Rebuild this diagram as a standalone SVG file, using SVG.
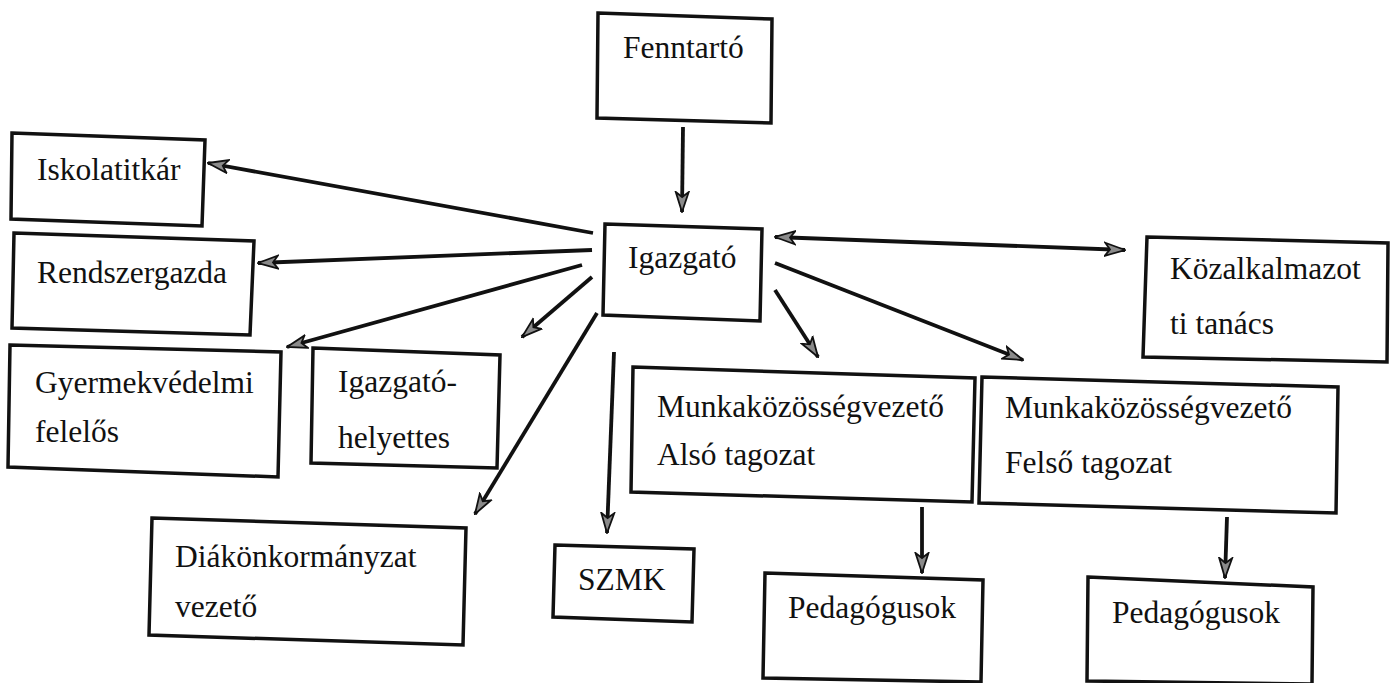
<svg xmlns="http://www.w3.org/2000/svg" width="1391" height="683" viewBox="0 0 1391 683">
<style>
.box{fill:#fff;stroke:#111;stroke-width:3.5;stroke-linejoin:miter}
.t{font-size:31.5px;fill:#111}
.c{fill:none;stroke:#111;stroke-width:3.8;marker-end:url(#ah)}
.bi{marker-start:url(#ah)}
</style>
<defs>
<marker id="ah" viewBox="0 0 22 16" markerWidth="22" markerHeight="16" refX="21" refY="8" orient="auto-start-reverse" markerUnits="userSpaceOnUse">
<path d="M1,1.5 L21,8 L1,14.5 L6,8 z" fill="#8a8a8a" stroke="#111" stroke-width="1.8" stroke-linejoin="miter"/>
</marker>
</defs>
<rect width="1391" height="683" fill="#fff"/>
<g id="connectors">
<line class="c" x1="683" y1="127" x2="682" y2="212"/>
<line class="c" x1="593" y1="233" x2="208" y2="163"/>
<line class="c" x1="592" y1="250" x2="258" y2="263"/>
<line class="c" x1="582" y1="265" x2="287" y2="347"/>
<line class="c" x1="592" y1="277" x2="522" y2="337"/>
<line class="c" x1="597" y1="313" x2="475" y2="514"/>
<line class="c" x1="614" y1="352" x2="607" y2="533"/>
<line class="c bi" x1="775" y1="237" x2="1125" y2="250"/>
<line class="c" x1="775" y1="290" x2="818" y2="357"/>
<line class="c" x1="775" y1="263" x2="1023" y2="360"/>
<line class="c" x1="922" y1="507" x2="922" y2="573"/>
<line class="c" x1="1227" y1="517" x2="1225" y2="578"/>
</g>
<g font-family="'Liberation Serif', 'Times New Roman', 'DejaVu Serif', serif">
<g id="fenntarto">
<polygon class="box" points="598,13 772,19 771,123 597,118"/>
<text class="t" x="623" y="58">Fenntartó</text>
</g>
<g id="iskolatitkar">
<polygon class="box" points="12,133 205,140 202,226 11,219"/>
<text class="t" x="37" y="180">Iskolatitkár</text>
</g>
<g id="rendszergazda">
<polygon class="box" points="14,233 254,241 250,335 12,328"/>
<text class="t" x="37" y="283">Rendszergazda</text>
</g>
<g id="igazgato">
<polygon class="box" points="605,224 762,229 760,321 603,315"/>
<text class="t" x="628" y="268">Igazgató</text>
</g>
<g id="kozalkalmazotti">
<polygon class="box" points="1147,237 1388,243 1387,362 1143,357"/>
<text class="t" x="1170" y="279">Közalkalmazot</text>
<text class="t" x="1170" y="334">ti tanács</text>
</g>
<g id="gyermekvedelmi">
<polygon class="box" points="10,345 281,352 278,477 8,467"/>
<text class="t" x="35" y="393">Gyermekvédelmi</text>
<text class="t" x="35" y="442">felelős</text>
</g>
<g id="igazgatohelyettes">
<polygon class="box" points="313,348 500,355 497,468 311,463"/>
<text class="t" x="338" y="392">Igazgató-</text>
<text class="t" x="338" y="448">helyettes</text>
</g>
<g id="diakonkormanyzat">
<polygon class="box" points="152,518 466,528 463,645 149,635"/>
<text class="t" x="175" y="567">Diákönkormányzat</text>
<text class="t" x="175" y="617">vezető</text>
</g>
<g id="szmk">
<polygon class="box" points="555,545 694,549 692,622 553,617"/>
<text class="t" x="578" y="590">SZMK</text>
</g>
<g id="mkv-also">
<polygon class="box" points="633,367 975,378 972,502 631,492"/>
<text class="t" x="657" y="417">Munkaközösségvezető</text>
<text class="t" x="657" y="465">Alsó tagozat</text>
</g>
<g id="mkv-felso">
<polygon class="box" points="982,377 1338,387 1336,513 979,503"/>
<text class="t" x="1005" y="418">Munkaközösségvezető</text>
<text class="t" x="1005" y="473">Felső tagozat</text>
</g>
<g id="pedagogusok-also">
<polygon class="box" points="765,573 983,580 981,682 763,678"/>
<text class="t" x="788" y="618">Pedagógusok</text>
</g>
<g id="pedagogusok-felso">
<polygon class="box" points="1088,577 1313,587 1312,684 1087,681"/>
<text class="t" x="1112" y="623">Pedagógusok</text>
</g>
</g>
</svg>
